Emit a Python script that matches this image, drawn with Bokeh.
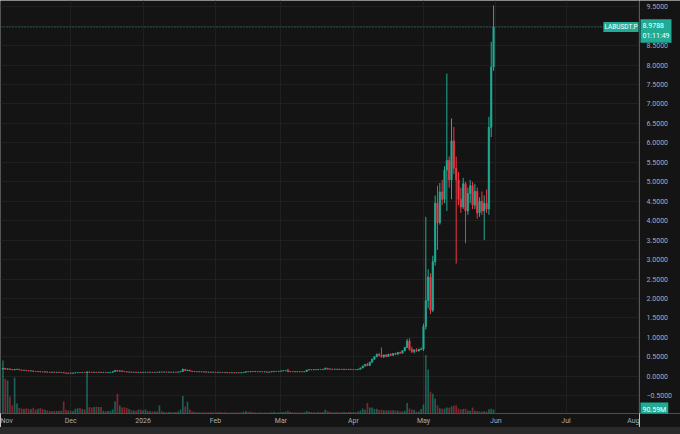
import numpy as np
import pandas as pd
from bokeh.plotting import figure
from bokeh.models import ColumnDataSource, Range1d, FixedTicker, CustomJSTickFormatter, Span, Label, Div
from bokeh.layouts import column, row
from bokeh.core.properties import value
from bokeh.embed import file_html
from bokeh.resources import INLINE

# ---------------- data (daily candles, LABUSDT.P) ----------------
symbol = "LABUSDT.P"
countdown = "01:11:49"
first_day = "2025-11-02"
last_day = "2026-05-31"

opens = [
    # Nov
    .185,.205,.182,.192,.174,.164,.180,.183,.163,.153,.157,.143,.136,.140,.125,.121,.126,.113,.109,.114,.105,.103,.109,.101,.105,.098,.101,.085,.079,
    # Dec
    .086,.076,.085,.094,.098,.095,.101,.099,.112,.104,.100,.105,.101,.106,.099,.102,.098,.101,.104,.121,.152,.132,.141,.125,.116,.109,.112,.102,.106,.101,.105,
    # Jan
    .099,.103,.107,.102,.105,.100,.104,.102,.113,.108,.110,.106,.109,.105,.108,.106,.112,.125,.178,.146,.160,.134,.121,.124,.115,.118,.111,.114,.107,.110,.103,
    # Feb
    .106,.101,.104,.097,.100,.094,.097,.091,.094,.088,.092,.087,.093,.104,.118,.114,.125,.120,.123,.116,.119,.112,.115,.107,.110,.121,.127,.124,
    # Mar
    .131,.137,.143,.150,.118,.122,.116,.121,.114,.119,.115,.124,.162,.170,.164,.172,.168,.178,.173,.181,.210,.184,.188,.179,.186,.178,.184,.176,.182,.174,.180,
    # Apr
    .172,.178,.171,.183,.215,.262,.305,.278,.360,.440,.505,.560,.535,.505,.545,.510,.565,.540,.585,.565,.610,.595,.655,.740,.905,.690,.640,.670,.650,.690,
    # May
    0.70,1.28,1.95,2.55,1.70,2.95,4.45,3.95,4.74,4.55,5.30,5.55,5.05,6.05,5.35,5.05,4.55,4.35,4.95,4.25,4.70,4.90,4.40,4.75,4.20,4.50,4.25,4.45,4.30,6.40,7.95,
]
highs = [
    .215,.212,.198,.195,.178,.186,.188,.185,.168,.160,.159,.149,.144,.142,.131,.129,.128,.118,.117,.116,.111,.112,.111,.108,.107,.104,.103,.090,.088,
    .091,.088,.097,.101,.104,.103,.106,.128,.118,.109,.108,.110,.109,.108,.104,.105,.104,.106,.125,.160,.158,.146,.145,.130,.121,.115,.114,.109,.110,.108,.107,
    .106,.109,.110,.108,.107,.106,.108,.118,.116,.112,.113,.111,.112,.110,.111,.114,.128,.200,.186,.172,.165,.138,.127,.126,.121,.120,.116,.116,.112,.112,.108,
    .109,.106,.106,.102,.102,.099,.099,.096,.096,.094,.094,.095,.108,.122,.124,.128,.130,.127,.125,.122,.121,.118,.117,.112,.124,.130,.133,.134,
    .140,.146,.155,.195,.126,.125,.124,.123,.122,.122,.127,.168,.175,.178,.176,.180,.182,.184,.185,.222,.214,.192,.191,.190,.189,.188,.187,.186,.185,.184,.183,
    .182,.181,.186,.222,.272,.318,.345,.372,.455,.520,.585,.600,.740,.560,.570,.580,.590,.600,.610,.625,.635,.670,.760,.960,.975,.760,.700,.720,.710,.740,
    1.35,4.10,2.75,2.65,3.10,4.65,4.90,4.97,5.05,5.40,7.78,5.65,6.63,6.41,5.65,5.25,4.85,5.10,5.00,4.85,5.05,5.00,4.95,4.85,4.60,4.75,4.65,4.80,6.67,8.60,9.53,
]
lows = [
    .180,.176,.175,.170,.160,.161,.172,.160,.150,.146,.140,.132,.131,.122,.118,.116,.110,.106,.105,.102,.100,.101,.098,.097,.095,.093,.083,.076,.075,
    .072,.073,.083,.089,.092,.093,.096,.097,.101,.097,.096,.099,.098,.097,.095,.096,.095,.097,.102,.118,.128,.128,.122,.113,.106,.103,.099,.098,.098,.097,.096,
    .095,.098,.099,.098,.097,.096,.099,.101,.105,.103,.104,.102,.103,.101,.103,.104,.110,.122,.140,.140,.130,.118,.114,.112,.110,.108,.106,.104,.102,.100,.099,
    .098,.096,.094,.093,.091,.090,.088,.086,.085,.085,.084,.085,.091,.101,.110,.112,.116,.115,.113,.111,.109,.108,.104,.103,.108,.118,.121,.122,
    .128,.133,.139,.108,.112,.113,.112,.111,.110,.112,.113,.122,.156,.160,.161,.165,.166,.170,.171,.178,.180,.178,.176,.176,.175,.174,.173,.172,.171,.170,.169,
    .168,.167,.168,.180,.210,.255,.262,.270,.352,.420,.490,.515,.480,.470,.490,.500,.525,.530,.550,.555,.580,.590,.645,.725,.660,.600,.590,.630,.640,.670,
    0.65,1.20,1.75,1.60,1.65,2.85,3.25,3.90,4.40,4.45,4.25,4.85,4.55,5.20,2.90,4.40,4.20,4.30,3.42,4.15,4.45,4.30,4.30,4.05,4.10,4.15,3.50,4.20,4.15,6.15,7.85,
]
closes = [
    .205,.182,.192,.174,.164,.180,.183,.163,.153,.157,.143,.136,.140,.125,.121,.126,.113,.109,.114,.105,.103,.109,.101,.105,.098,.101,.085,.079,.086,
    .076,.085,.094,.098,.095,.101,.099,.112,.104,.100,.105,.101,.106,.099,.102,.098,.101,.104,.121,.152,.132,.141,.125,.116,.109,.112,.102,.106,.101,.105,.099,
    .103,.107,.102,.105,.100,.104,.102,.113,.108,.110,.106,.109,.105,.108,.106,.112,.125,.178,.146,.160,.134,.121,.124,.115,.118,.111,.114,.107,.110,.103,.106,
    .101,.104,.097,.100,.094,.097,.091,.094,.088,.092,.087,.093,.104,.118,.114,.125,.120,.123,.116,.119,.112,.115,.107,.110,.121,.127,.124,.131,
    .137,.143,.150,.118,.122,.116,.121,.114,.119,.115,.124,.162,.170,.164,.172,.168,.178,.173,.181,.210,.184,.188,.179,.186,.178,.184,.176,.182,.174,.180,.172,
    .178,.171,.183,.215,.262,.305,.278,.360,.440,.505,.560,.535,.505,.545,.510,.565,.540,.585,.565,.610,.595,.655,.740,.905,.690,.640,.670,.650,.690,.700,
    1.28,1.95,2.55,1.70,2.95,4.45,3.95,4.74,4.55,5.30,5.55,5.05,6.05,5.35,5.05,4.55,4.35,4.95,4.25,4.70,4.90,4.40,4.75,4.20,4.50,4.25,4.45,4.30,6.40,7.95,8.9788,
]
volumes_m = [
    1200,790,745,385,180,815,225,125,115,100,120,105,95,130,90,110,125,100,85,70,55,50,60,55,60,65,270,85,70,
    60,55,110,120,130,100,90,940,140,135,150,155,145,150,60,50,55,65,90,280,450,180,135,140,125,100,75,70,60,90,85,
    70,90,55,50,45,50,45,180,50,35,30,35,30,30,35,45,90,395,160,265,90,45,35,30,25,30,25,30,25,30,25,
    25,30,35,25,30,25,25,20,25,20,20,25,40,55,35,40,30,25,25,20,25,20,25,20,30,35,25,30,
    30,35,40,65,35,30,25,30,25,25,30,55,40,35,30,30,35,30,35,85,50,35,30,30,35,30,30,35,30,35,35,
    35,30,45,70,115,85,240,135,135,100,110,80,85,75,70,75,70,75,70,65,45,45,60,240,115,90,85,45,45,100,
    205,1318,995,490,450,340,180,120,110,115,135,130,160,180,180,115,90,100,110,70,60,135,60,55,45,45,50,45,95,110,90.59,
]
price_ticks = [-0.5, 0.0, 0.5, 1.0, 1.5, 2.0, 2.5, 3.0, 3.5, 4.0, 4.5, 5.0, 5.5, 6.0, 6.5, 7.0, 7.5, 8.0, 8.5, 9.0, 9.5]
month_ticks = ["2025-11-01", "2025-12-01", "2026-01-01", "2026-02-01", "2026-03-01",
               "2026-04-01", "2026-05-01", "2026-06-01", "2026-07-01", "2026-08-01"]

# ---------------- styling ----------------
BG = "#141414"
GRID = "#202020"
UP = "#22ab94"
DOWN = "#f23645"
TXT = "#a9acb4"
FONT = "Roboto"
DAY_MS = 86400000
W, H, RIGHT, BOTTOM, STRIP = 680, 427, 41, 13, 7
FRAME_W = W - RIGHT

dates = pd.date_range(first_day, last_day, freq="D")
o = np.array(opens); c = np.array(closes)
is_up = c >= o
src = ColumnDataSource(dict(
    date=dates,
    open=o, high=np.array(highs), low=np.array(lows), close=c,
    top=np.maximum(o, c), bottom=np.minimum(o, c),
    volume=np.array(volumes_m),
    color=np.where(is_up, UP, DOWN),
))

x0 = pd.Timestamp("2025-11-01") - pd.Timedelta(hours=1)
x1 = pd.Timestamp("2026-08-01") + pd.Timedelta(hours=11)
price_range = Range1d(-0.956, 9.66)
vol_range = Range1d(0, 9356)

# ---------------- main price pane ----------------
p = figure(width=FRAME_W, height=H, x_axis_type="datetime",
           x_range=Range1d(x0, x1), y_range=price_range, y_axis_location=None,
           output_backend="svg", toolbar_location=None,
           background_fill_color=BG, border_fill_color=BG, outline_line_color=None,
           min_border_left=0, min_border_top=0, min_border_right=0, min_border_bottom=BOTTOM)
p.extra_y_ranges = {"vol": vol_range}

p.xgrid.ticker = FixedTicker(ticks=[pd.Timestamp(t).value // 10**6 for t in month_ticks])
p.xgrid.grid_line_color = GRID
p.ygrid.ticker = FixedTicker(ticks=price_ticks)
p.ygrid.grid_line_color = GRID

p.xaxis.ticker = FixedTicker(ticks=[pd.Timestamp(t).value // 10**6 for t in month_ticks])
p.xaxis.formatter = CustomJSTickFormatter(code="""
const d = new Date(tick);
const m = d.getUTCMonth();
const n = ["Jan","Feb","Mar","Apr","May","Jun","Jul","Aug","Sep","Oct","Nov","Dec"];
return m == 0 ? String(d.getUTCFullYear()) : n[m];
""")
p.xaxis.major_tick_line_color = None
p.xaxis.minor_tick_line_color = None
p.xaxis.major_tick_out = 0
p.xaxis.major_tick_in = 0
p.xaxis.minor_tick_out = 0
p.xaxis.minor_tick_in = 0
p.xaxis.major_label_text_color = TXT
p.xaxis.major_label_text_font = FONT
p.xaxis.major_label_text_font_size = "7px"
p.xaxis.axis_line_color = None
p.xaxis.major_label_standoff = 3

# volume (overlay in lower part)
p.vbar(x="date", width=0.72 * DAY_MS, top="volume", bottom=0, y_range_name="vol",
       fill_color="color", fill_alpha=0.5, line_color=None, source=src)

# candles
p.segment(x0="date", y0="low", x1="date", y1="high", line_color="color", line_width=1, source=src)
p.vbar(x="date", width=0.62 * DAY_MS, top="top", bottom="bottom",
       fill_color="color", line_color="color", line_width=0.6, source=src)

last_close = closes[-1]
p.add_layout(Span(location=last_close, dimension="width", line_color=UP,
                  line_dash="1 2", line_width=1, line_alpha=0.8))
p.add_layout(Label(x=x1, y=last_close, text=symbol, text_align="right", text_baseline="middle",
                   x_offset=-1, text_font=FONT, text_font_size="6.5px", text_color="white",
                   background_fill_color=UP, padding=1))

# ---------------- price scale pane (right) ----------------
q = figure(width=RIGHT, height=H, x_range=Range1d(0, RIGHT), y_range=price_range,
           x_axis_location=None, y_axis_location=None,
           output_backend="svg", toolbar_location=None,
           background_fill_color=BG, border_fill_color=BG, outline_line_color=None,
           min_border_left=0, min_border_top=0, min_border_right=0, min_border_bottom=BOTTOM)
q.extra_y_ranges = {"vol": vol_range}
q.grid.visible = False
q.add_layout(Span(location=0, dimension="height", line_color="#262626", line_width=1))

tick_text = [("\u2212" if t < 0 else "") + f"{abs(t):.4f}" for t in price_ticks]
q.text(x=[7] * len(price_ticks), y=price_ticks, text=tick_text,
       text_font=value(FONT), text_font_size="7px", text_color=TXT,
       text_align="left", text_baseline="middle")

q.add_layout(Label(x=1, y=last_close, text=f"{last_close:.4f}\n{countdown}",
                   text_align="left", text_baseline="middle", y_offset=-4, text_font=FONT,
                   text_font_size="7px", text_color="white", background_fill_color=UP, padding=(2, 3)))
q.add_layout(Label(x=1, y=volumes_m[-1], y_range_name="vol", text=f"{volumes_m[-1]:.2f}M",
                   text_align="left", text_baseline="middle", text_font=FONT,
                   text_font_size="7px", text_color="white", background_fill_color=UP, padding=(2, 3)))

strip = Div(width=W, height=STRIP, margin=0, styles={"background-color": "#2a2a2a"})
layout = column(row(p, q, spacing=0), strip, spacing=0)

open("out.html", "w").write(file_html(layout, INLINE))
